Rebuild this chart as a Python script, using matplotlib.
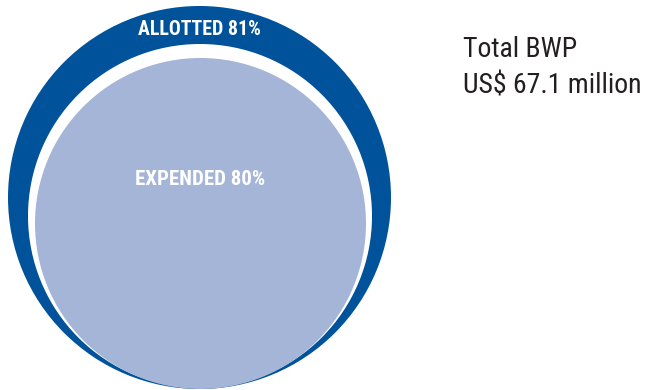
import matplotlib
matplotlib.use('Agg')
import matplotlib.pyplot as plt
import matplotlib.patches as patches

# dados do gráfico
rotulos = ['ALLOTTED', 'EXPENDED']
percentuais = [81, 80]
total_titulo = 'Total BWP'
total_valor = 67.1  # US$ milhões

azul_escuro = '#00529b'
azul_claro = '#a5b5d7'
fonte = ['Roboto Condensed', 'DejaVu Sans']

fig = plt.figure(figsize=(6.46, 3.90), dpi=100)
ax = fig.add_axes([0, 0, 1, 1])
ax.set_xlim(0, 646)
ax.set_ylim(390, 0)
ax.set_aspect('equal')
ax.axis('off')

# círculo externo (alocado), anel branco, círculo interno (gasto)
ax.add_patch(patches.Circle((199.5, 197.5), 191.5, facecolor=azul_escuro, edgecolor='none'))
ax.add_patch(patches.Circle((200, 216), 172, facecolor='white', edgecolor='none'))
ax.add_patch(patches.Circle((200.5, 223.5), 165.5, facecolor=azul_claro, edgecolor='none'))

ax.text(199, 35, f'{rotulos[0]} {percentuais[0]}%', ha='center', va='baseline',
        color='white', fontsize=14.3, fontweight='bold', family=fonte)
ax.text(200, 185, f'{rotulos[1]} {percentuais[1]}%', ha='center', va='baseline',
        color='white', fontsize=15, fontweight='bold', family=fonte)

ax.text(463, 57, total_titulo, ha='left', va='baseline', color='#231f20',
        fontsize=20, family=fonte)
ax.text(463, 93, f'US$ {total_valor} million', ha='left', va='baseline', color='#231f20',
        fontsize=20, family=fonte)

fig.savefig('out.png', dpi=100)
